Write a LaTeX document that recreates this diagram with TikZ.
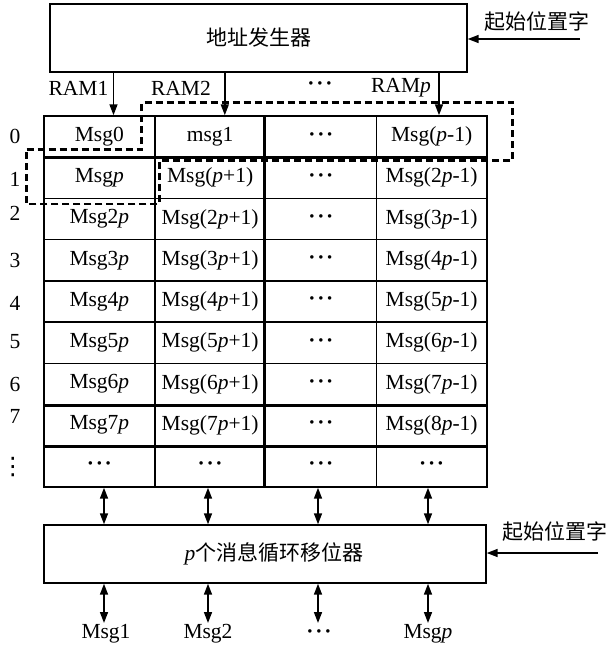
\documentclass[tikz,border=0pt]{standalone}
\usepackage{fontspec}
\setmainfont{Liberation Serif}
\newfontfamily\cjk{Noto Sans CJK SC}
\newfontfamily\dejavu{DejaVu Sans}
\newcommand{\mydots}{\textbf{\char"00B7\kern1.8pt\char"00B7\kern1.8pt\char"00B7}}
\usetikzlibrary{arrows.meta}
\begin{document}
\begin{tikzpicture}[x=1pt,y=-1pt,
  every node/.style={font=\fontsize{21.5}{24}\selectfont, inner sep=0pt},
  box/.style={draw, line width=1.4pt},
  cell/.style={draw, line width=1.5pt, minimum width=110.75pt, minimum height=41.22pt},
  arr/.style={line width=1.6pt, -{Triangle[length=11pt,width=8pt]}},
  darr/.style={line width=1.6pt, {Triangle[length=11pt,width=8pt]}-{Triangle[length=11pt,width=8pt]}},
  dashbox/.style={line width=2.6pt, dash pattern=on 7pt off 4pt},
  thk/.style={line width=2.8pt},
  outlbl/.style={anchor=north, text height=15pt, text depth=5pt},
  cjkfont/.style={font=\fontsize{21}{24}\selectfont\cjk}]
\useasboundingbox (0,0) rectangle (613,648);

% address generator
\node[box, minimum width=417pt, minimum height=68pt, cjkfont] (addr) at (258.5,38) {地址发生器};
\node[cjkfont] (start1) at (537,22) {起始位置字};
\coordinate (s1) at (580,39);
\draw[arr] (s1) -- (s1 -| addr.east);

% grid
\def\cx#1{44+110.75*(#1+0.5)}
\def\ry#1{116+41.22*(#1+0.5)}
\node[cell] (c-0-0) at ({\cx{0}},{\ry{0}}) {Msg0};
\node[cell] (c-0-1) at ({\cx{1}},{\ry{0}}) {msg1};
\node[cell] (c-0-2) at ({\cx{2}},{\ry{0}}) {\mydots};
\node[cell] (c-0-3) at ({\cx{3}},{\ry{0}}) {Msg(\textit{p}-1)};
\node[cell] (c-1-0) at ({\cx{0}},{\ry{1}}) {Msg\textit{p}};
\node[cell] (c-1-1) at ({\cx{1}},{\ry{1}}) {Msg(\textit{p}+1)};
\node[cell] (c-1-2) at ({\cx{2}},{\ry{1}}) {\mydots};
\node[cell] (c-1-3) at ({\cx{3}},{\ry{1}}) {Msg(2\textit{p}-1)};
\foreach \r in {2,...,7} {
  \pgfmathtruncatemacro\n{\r+1}
  \node[cell] (c-\r-0) at ({\cx{0}},{\ry{\r}}) {Msg\r\textit{p}};
  \node[cell] (c-\r-1) at ({\cx{1}},{\ry{\r}}) {Msg(\r\textit{p}+1)};
  \node[cell] (c-\r-2) at ({\cx{2}},{\ry{\r}}) {\mydots};
  \node[cell] (c-\r-3) at ({\cx{3}},{\ry{\r}}) {Msg(\n\textit{p}-1)};
}
\foreach \c in {0,...,3} {
  \node[cell] (c-8-\c) at ({\cx{\c}},{\ry{8}}) {\mydots};
}
\draw[thk] (c-0-2.north west) -- (c-8-2.south west);
\draw[thk] (c-0-0.south west) -- (c-0-3.south east);
\draw[thk] (c-6-0.south west) -- (c-6-3.south east);
\draw[thk] (c-7-0.south west) -- (c-7-3.south east);

% row labels
\node (r0) at (15,136) {0};
\node (r1) at (15,179) {1};
\node (r2) at (15,213) {2};
\node (r3) at (15,260) {3};
\node (r4) at (15,303) {4};
\node (r5) at (15,342) {5};
\node (r6) at (15,384) {6};
\node (r7) at (15,416) {7};
\node (r8) at (13,467) {\fontsize{24}{24}\selectfont\dejavu ⋮};

% RAM arrows
\node (ram1) at (78.5,88) {RAM1};
\node (ram2) at (181,88) {RAM2};
\node (ramd) at (320,86) {\mydots};
\node (ramp) at (401,88) {RAM\textit{p}};
\coordinate (a1) at (113.5,0);
\coordinate (a2) at (224.8,0);
\coordinate (a3) at (439,0);
\draw[arr] (addr.south -| a1) -- (c-0-0.north -| a1);
\draw[arr] (addr.south -| a2) -- (c-0-1.north -| a2);
\draw[arr] (addr.south -| a3) -- (c-0-3.north -| a3);

% dashed outline
\draw[dashbox] (26.5,149.5) -- (141.7,149.5) -- (141.7,102.5) -- (512.7,102.5)
  -- (512.7,160.7) -- (159.3,160.7) -- (159.3,204) -- (26.5,204) -- cycle;

% shifter
\node[box, minimum width=442pt, minimum height=58pt] (shift) at (265,554)
  {\hspace*{18pt}\textit{p}{\fontsize{21}{24}\selectfont\cjk 个消息循环移位器}};
\node[cjkfont] (start2) at (555,532) {起始位置字};
\coordinate (s2) at (598,553);
\draw[arr] (s2) -- (s2 -| shift.east);

\coordinate (b1) at (104,0);
\coordinate (b2) at (208,0);
\coordinate (b3) at (318,0);
\coordinate (b4) at (428,0);
\draw[darr] (c-8-0.south -| b1) -- (shift.north -| b1);
\draw[darr] (c-8-1.south -| b2) -- (shift.north -| b2);
\draw[darr] (c-8-2.south -| b3) -- (shift.north -| b3);
\draw[darr] (c-8-3.south -| b4) -- (shift.north -| b4);

% outputs
\node[outlbl] (o1) at (106,623) {Msg1};
\node[outlbl] (o2) at (208,623) {Msg2};
\node[outlbl] (o3) at (319,623) {\mydots};
\node[outlbl] (o4) at (428,623) {Msg\textit{p}};
\draw[darr] (shift.south -| b1) -- (o1.north -| b1);
\draw[darr] (shift.south -| b2) -- (o2.north -| b2);
\draw[darr] (shift.south -| b3) -- (o3.north -| b3);
\draw[darr] (shift.south -| b4) -- (o4.north -| b4);
\end{tikzpicture}
\end{document}
